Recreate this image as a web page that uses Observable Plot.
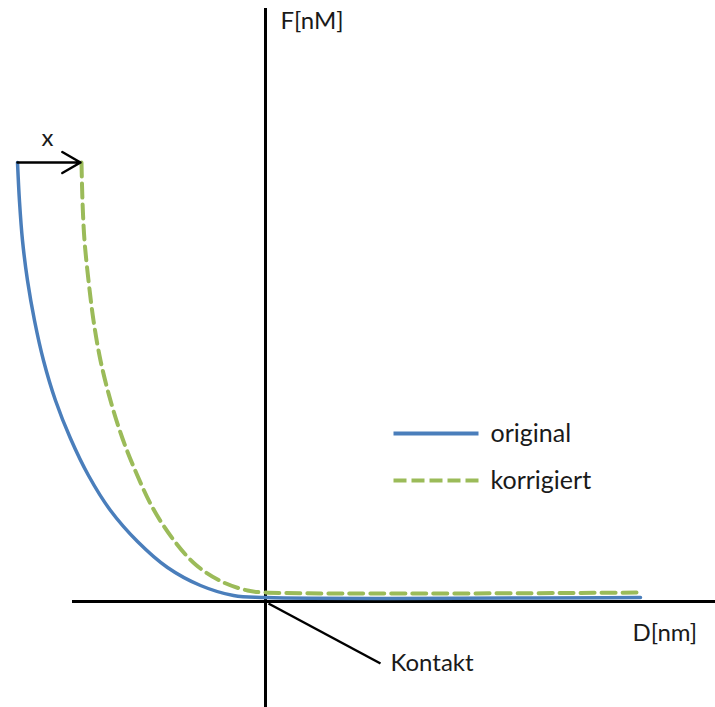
<!DOCTYPE html>
<html>
<head>
<meta charset="utf-8">
<script src="https://cdn.jsdelivr.net/npm/d3@7"></script>
<script src="https://cdn.jsdelivr.net/npm/@observablehq/plot@0.6"></script>
<style>
  html, body { margin: 0; padding: 0; background: #fff; }
  #chart svg { display: block; }
</style>
</head>
<body>
<div id="chart"></div>
<script>
// Distance D (nm, arbitrary units) and force F (arbitrary units)
const originalD = [-248, -246, -243, -238, -231, -222, -210, -195, -177, -155, -128, -98, -65, -32, 0, 375];
const originalF = [439, 400, 361, 321, 281, 241, 201, 163, 126, 91, 60, 34, 16, 6, 4, 4];
const korrigiertD = [-184, -183, -181, -177, -172, -165, -155, -143, -129, -113, -93, -70, -44, -18, 0, 375];
const korrigiertF = [439, 400, 361, 321, 281, 241, 201, 163, 128, 94, 63, 37, 20, 11, 9, 9];

const seriesNames = ["original", "korrigiert"];
const seriesColors = ["#4a7ebb", "#9bbb59"];

const xDomain = [-265, 450];
const yDomain = [-106, 601];

// axis extents
const xAxisExtent = [-193, 450];
const yAxisExtent = [-106, 593];

// annotation positions
const shiftArrow = [{x1: -248, x2: -185, y: 439}];
const shiftLabel = [{x: -218, y: 463, text: "x"}];
const kontaktLeader = [{x1: 3, y1: -2, x2: 115, y2: -62}];
const kontaktLabel = [{x: 125, y: -62, text: "Kontakt"}];
const axisLabels = [
  {x: 15, y: 580, text: "F[nM]"},
  {x: 367, y: -32, text: "D[nm]"}
];
const legendOriginal = [{name: "original", y: 168, x1: 128, x2: 213}];
const legendKorrigiert = [{name: "korrigiert", y: 121, x1: 128, x2: 213}];

const original = originalD.map((d, i) => ({D: d, F: originalF[i]}));
const korrigiert = korrigiertD.map((d, i) => ({D: d, F: korrigiertF[i]}));

const font = "Lato, 'Open Sans', sans-serif";
const textColor = "#1a1a1a";

const chart = Plot.plot({
  width: 715,
  height: 707,
  margin: 0,
  x: {domain: xDomain, range: [0, 715], axis: null},
  y: {domain: yDomain, range: [707, 0], axis: null},
  style: {fontFamily: font, background: "#fff"},
  marks: [
    Plot.ruleY([0], {x1: xAxisExtent[0], x2: xAxisExtent[1], stroke: "#000", strokeWidth: 3}),
    Plot.ruleX([0], {y1: yAxisExtent[0], y2: yAxisExtent[1], stroke: "#000", strokeWidth: 3}),
    Plot.line(korrigiert, {x: "D", y: "F", stroke: seriesColors[1], strokeWidth: 4, strokeDasharray: "14,7", curve: "catmull-rom"}),
    Plot.line(original, {x: "D", y: "F", stroke: seriesColors[0], strokeWidth: 3.5, curve: "catmull-rom"}),
    Plot.arrow(shiftArrow, {x1: "x1", x2: "x2", y1: "y", y2: "y", stroke: "#000", strokeWidth: 2.5, headLength: 14, bend: 0}),
    Plot.text(shiftLabel, {x: "x", y: "y", text: "text", fontSize: 24, fill: textColor}),
    Plot.link(kontaktLeader, {x1: "x1", y1: "y1", x2: "x2", y2: "y2", stroke: "#000", strokeWidth: 2.5}),
    Plot.text(kontaktLabel, {x: "x", y: "y", text: "text", textAnchor: "start", fontSize: 24, fill: textColor}),
    Plot.text(axisLabels, {x: "x", y: "y", text: "text", textAnchor: "start", fontSize: 24, fill: textColor}),
    Plot.link(legendOriginal, {x1: "x1", x2: "x2", y1: "y", y2: "y", stroke: seriesColors[0], strokeWidth: 4}),
    Plot.link(legendKorrigiert, {x1: "x1", x2: "x2", y1: "y", y2: "y", stroke: seriesColors[1], strokeWidth: 4, strokeDasharray: "13,5"}),
    Plot.text(legendOriginal.concat(legendKorrigiert), {x: d => d.x2 + 12, y: "y", text: "name", textAnchor: "start", fontSize: 25, fill: textColor})
  ]
});
document.getElementById("chart").appendChild(chart);
</script>
</body>
</html>
